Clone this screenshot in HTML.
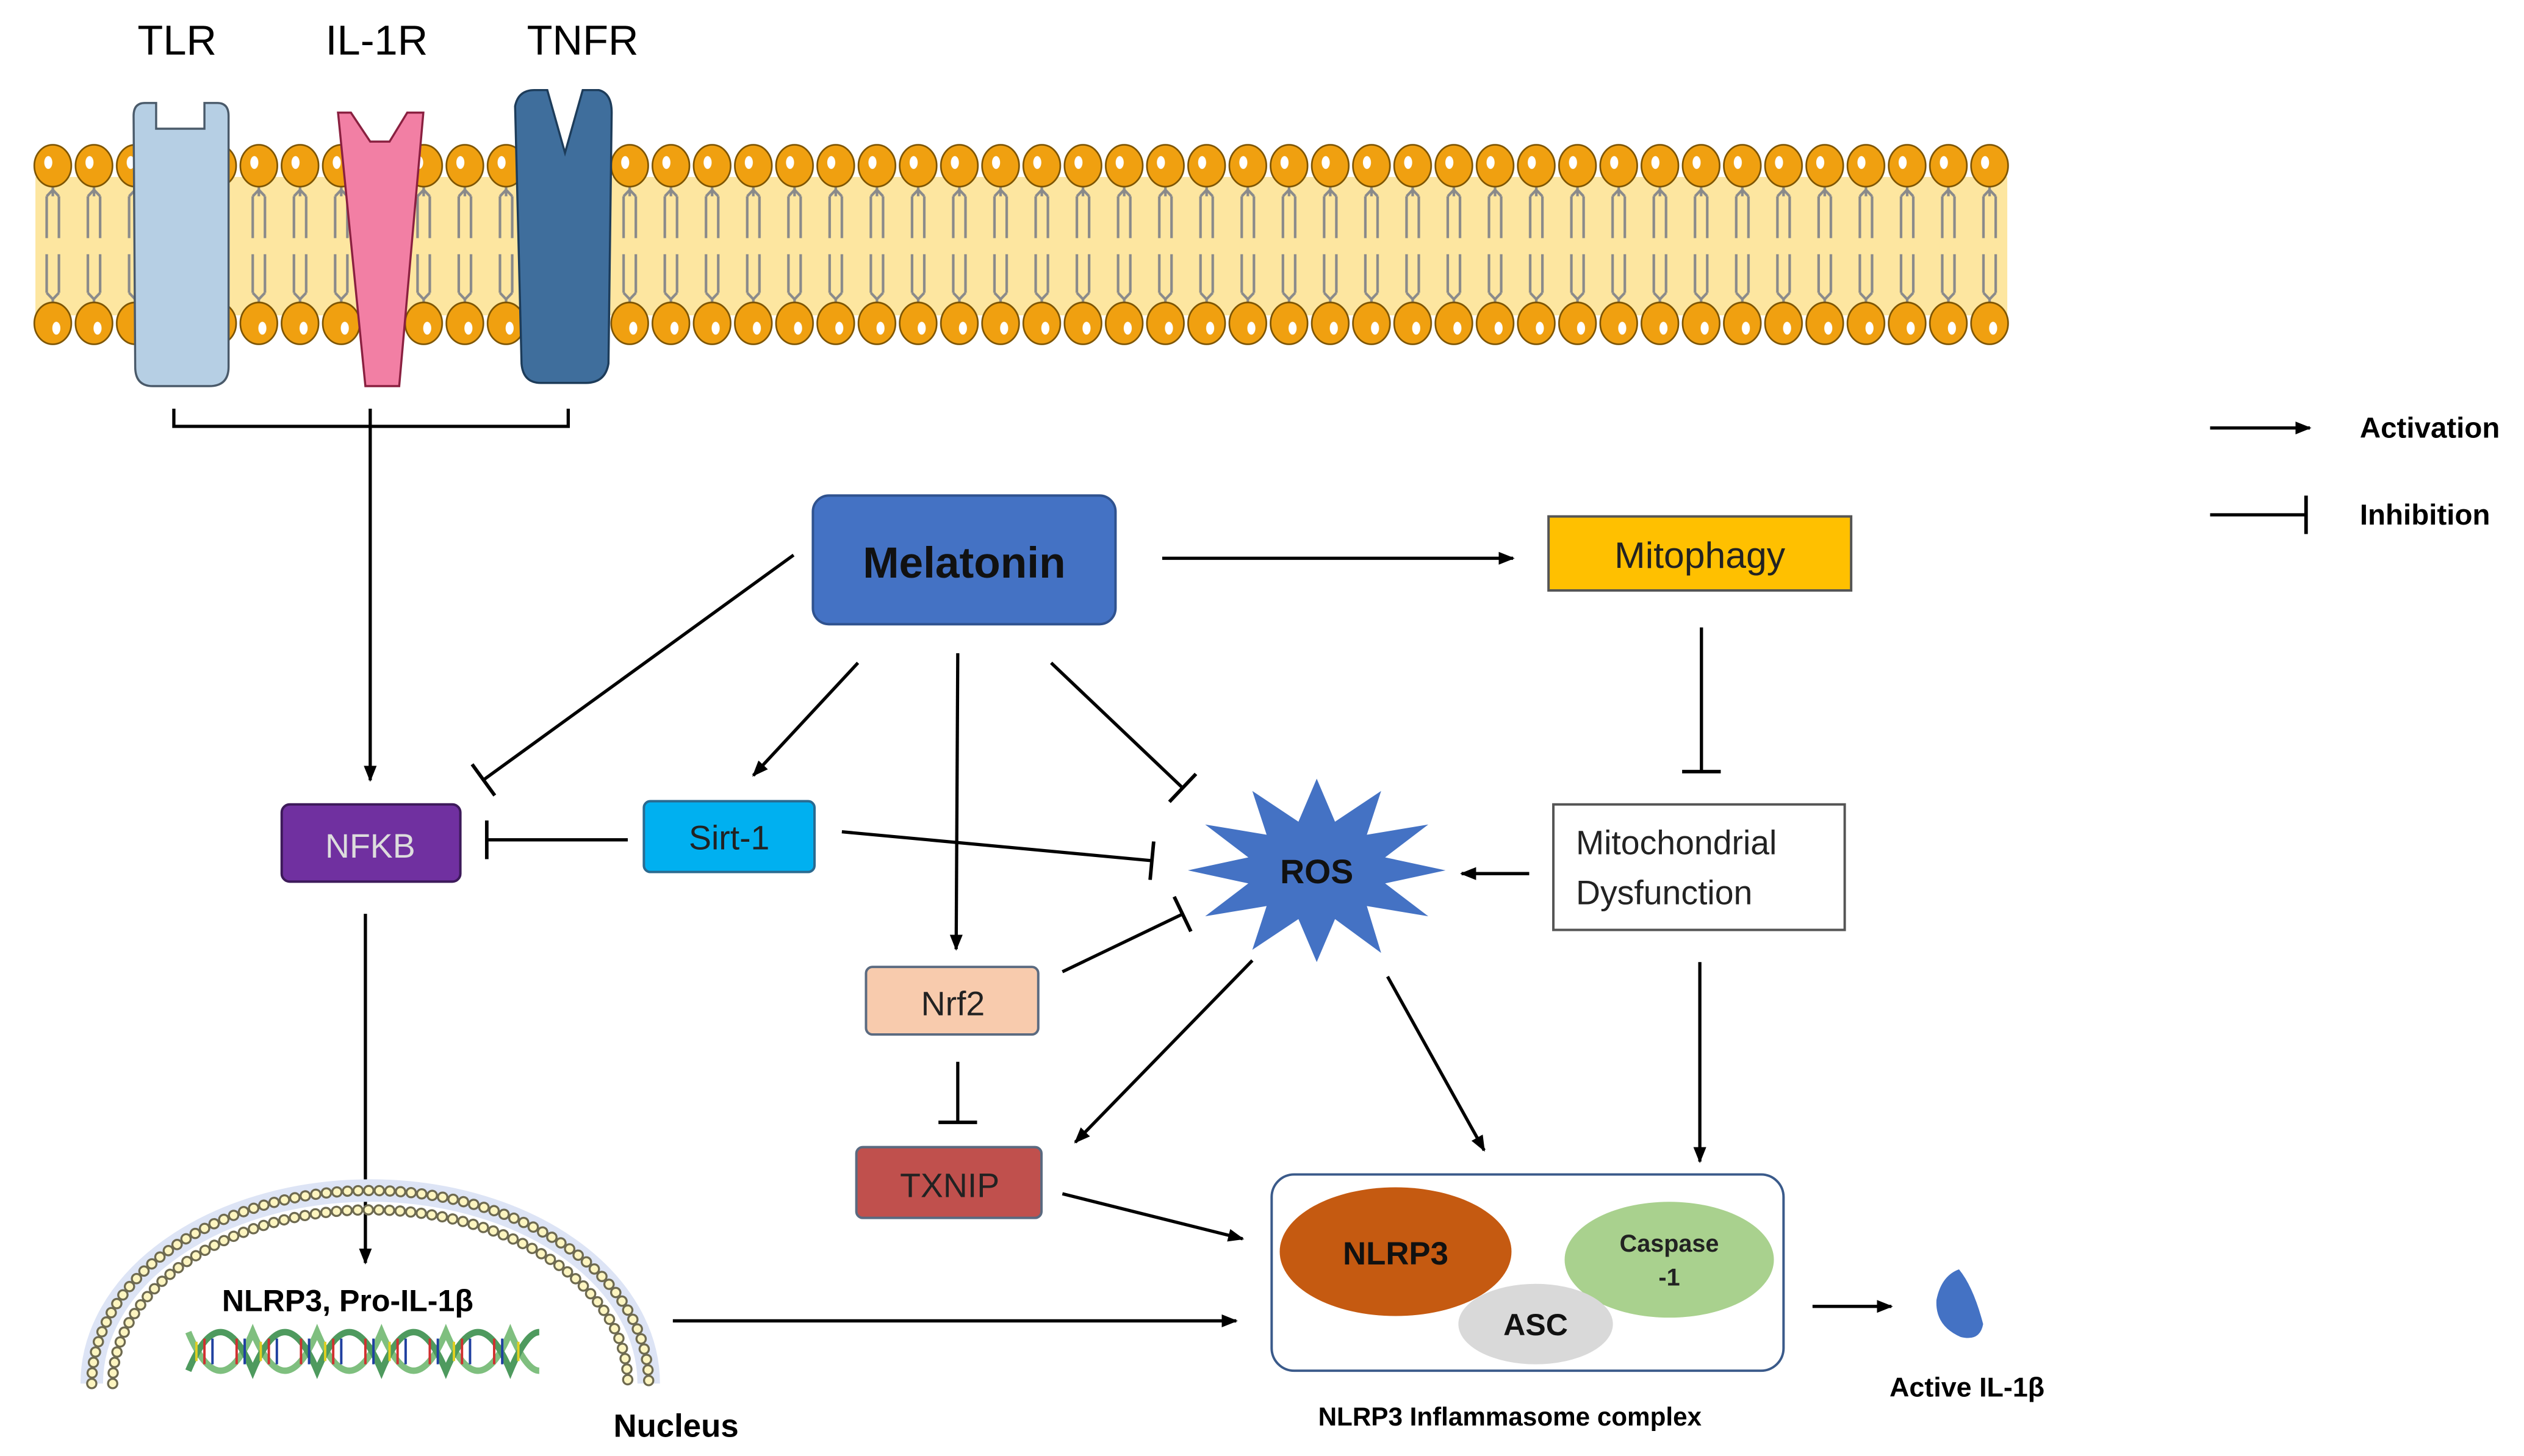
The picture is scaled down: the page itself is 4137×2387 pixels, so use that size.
<!DOCTYPE html>
<html><head><meta charset="utf-8"><style>
html,body{margin:0;padding:0;background:#fff}
svg{display:block}
text{font-family:"Liberation Sans",sans-serif}
</style></head><body>
<svg width="4137" height="2387" viewBox="0 0 1568 905" preserveAspectRatio="none" xmlns="http://www.w3.org/2000/svg">
<defs>
<marker id="ar" markerWidth="10" markerHeight="10" refX="9" refY="5" orient="auto" markerUnits="userSpaceOnUse"><path d="M0,1 L10,5 L0,9 Z" fill="#000"/></marker>
<marker id="inh" markerWidth="4" markerHeight="24" refX="2" refY="12" orient="auto" markerUnits="userSpaceOnUse"><rect x="0.5" y="0" width="2.2" height="24" fill="#000"/></marker>
<pattern id="lip" x="20" y="86" width="25.6" height="130" patternUnits="userSpaceOnUse">
<path d="M12.8,28 L12.8,36 M9,36 L12.8,32 L16.6,36 M9,36 V62 M16.6,36 V62 M9,72 V96 M16.6,72 V96 M9,96 L12.8,100 L16.6,96 M12.8,100 V106" stroke="#8a8a8a" stroke-width="1.6" fill="none"/>
<ellipse cx="12.8" cy="17" rx="11.5" ry="13" fill="#f0a010" stroke="#7a5200" stroke-width="1"/>
<ellipse cx="10" cy="15" rx="2.5" ry="4" fill="#fff"/>
<ellipse cx="12.8" cy="115" rx="11.5" ry="13" fill="#f0a010" stroke="#7a5200" stroke-width="1"/>
<ellipse cx="15" cy="118" rx="2.5" ry="4" fill="#fff"/>
</pattern>
</defs>

<!-- membrane -->
<rect x="22" y="110" width="1225" height="86" fill="#fde6a0"/>
<rect x="20" y="86" width="1228.8" height="130" fill="url(#lip)"/>

<!-- receptors -->
<path d="M83,72 Q83,64 90,64 L97,64 L97,80 L127,80 L127,64 L135,64 Q142,64 142,72 L142,228 Q142,240 130,240 L95,240 Q84,240 84,228 Z" fill="#b6cfe4" stroke="#4a5a6a" stroke-width="1.3"/>
<path d="M210,70 L218,70 L230,88 L242,88 L253,70 L263,70 L248,240 L227,240 Z" fill="#f27fa4" stroke="#8a2040" stroke-width="1.3"/>
<path d="M320,66 Q322,56 332,56 L340,56 L351,95 L362,56 L372,56 Q380,58 380,70 L378,226 Q376,238 364,238 L336,238 Q325,238 324,226 Z" fill="#3f6e9c" stroke="#1d3c5a" stroke-width="1.3"/>

<text x="110" y="34" font-size="26" text-anchor="middle">TLR</text>
<text x="234" y="34" font-size="26" text-anchor="middle">IL-1R</text>
<text x="362" y="34" font-size="26" text-anchor="middle">TNFR</text>

<!-- bracket -->
<path d="M108,254 V265 H353 V254 M230,254 V265" stroke="#000" stroke-width="2" fill="none"/>

<!-- legend -->
<line x1="1373" y1="266" x2="1435" y2="266" stroke="#000" stroke-width="2" marker-end="url(#ar)"/>
<text x="1466" y="272" font-size="18" font-weight="bold">Activation</text>
<line x1="1373" y1="320" x2="1433" y2="320" stroke="#000" stroke-width="2" marker-end="url(#inh)"/>
<text x="1466" y="326" font-size="18" font-weight="bold">Inhibition</text>

<!-- edges -->
<g stroke="#000" stroke-width="2" fill="none">
<line x1="230" y1="265" x2="230" y2="485" marker-end="url(#ar)"/>
<line x1="493" y1="345" x2="300" y2="485" marker-end="url(#inh)"/>
<line x1="533" y1="412" x2="468" y2="482" marker-end="url(#ar)"/>
<line x1="595" y1="406" x2="594" y2="590" marker-end="url(#ar)"/>
<line x1="653" y1="412" x2="735" y2="490" marker-end="url(#inh)"/>
<line x1="722" y1="347" x2="940" y2="347" marker-end="url(#ar)"/>
<line x1="1057" y1="390" x2="1057" y2="480" marker-end="url(#inh)"/>
<line x1="390" y1="522" x2="302" y2="522" marker-end="url(#inh)"/>
<line x1="523" y1="517" x2="716" y2="535" marker-end="url(#inh)"/>
<line x1="660" y1="604" x2="735" y2="568" marker-end="url(#inh)"/>
<line x1="595" y1="660" x2="595" y2="698" marker-end="url(#inh)"/>
<line x1="950" y1="543" x2="908" y2="543" marker-end="url(#ar)"/>
<line x1="778" y1="597" x2="668" y2="710" marker-end="url(#ar)"/>
<line x1="862" y1="607" x2="922" y2="715" marker-end="url(#ar)"/>
<line x1="1056" y1="598" x2="1056" y2="722" marker-end="url(#ar)"/>
<line x1="660" y1="742" x2="772" y2="770" marker-end="url(#ar)"/>
<line x1="227" y1="568" x2="227" y2="785" marker-end="url(#ar)"/>
<line x1="418" y1="821" x2="768" y2="821" marker-end="url(#ar)"/>
<line x1="1126" y1="812" x2="1175" y2="812" marker-end="url(#ar)"/>
</g>

<!-- nodes -->
<rect x="505" y="308" width="188" height="80" rx="10" fill="#4472c4" stroke="#2f528f" stroke-width="1.5"/>
<text x="599" y="359" font-size="27" font-weight="bold" text-anchor="middle" fill="#111">Melatonin</text>
<rect x="962" y="321" width="188" height="46" fill="#ffc000" stroke="#555" stroke-width="1.5"/>
<text x="1056" y="353" font-size="23" text-anchor="middle" fill="#222">Mitophagy</text>
<rect x="965" y="500" width="181" height="78" fill="#fff" stroke="#555" stroke-width="1.5"/>
<text x="979" y="531" font-size="21" fill="#222">Mitochondrial</text>
<text x="979" y="562" font-size="21" fill="#222">Dysfunction</text>
<rect x="175" y="500" width="111" height="48" rx="5" fill="#7030a0" stroke="#3d1a5a" stroke-width="1.5"/>
<text x="230" y="533" font-size="21" text-anchor="middle" fill="#ddd">NFKB</text>
<rect x="400" y="498" width="106" height="44" rx="4" fill="#00b0f0" stroke="#2a6a90" stroke-width="1.5"/>
<text x="453" y="528" font-size="21" text-anchor="middle" fill="#222">Sirt-1</text>
<rect x="538" y="601" width="107" height="42" rx="4" fill="#f8cbad" stroke="#5a6a80" stroke-width="1.5"/>
<text x="592" y="631" font-size="21" text-anchor="middle" fill="#222">Nrf2</text>
<rect x="532" y="713" width="115" height="44" rx="4" fill="#c0504d" stroke="#5a6a80" stroke-width="1.5"/>
<text x="590" y="744" font-size="21" text-anchor="middle" fill="#222">TXNIP</text>

<polygon transform="translate(818,541) scale(80,57)" vector-effect="non-scaling-stroke" fill="#4472c4" stroke="#2f528f" stroke-width="0.02"
points="1,0 .531,.142 .866,.5 .389,.389 .5,.9 .142,.531 0,1 -.142,.531 -.5,.866 -.389,.389 -.866,.5 -.531,.142 -1,0 -.531,-.142 -.866,-.5 -.389,-.389 -.5,-.866 -.142,-.531 0,-1 .142,-.531 .5,-.866 .389,-.389 .866,-.5 .531,-.142"/>
<text x="818" y="549" font-size="21" font-weight="bold" text-anchor="middle" fill="#111">ROS</text>

<!-- inflammasome -->
<rect x="790" y="730" width="318" height="122" rx="14" fill="#fff" stroke="#3a5a8a" stroke-width="1.5"/>
<ellipse cx="867" cy="778" rx="72" ry="40" fill="#c55a11"/>
<ellipse cx="1037" cy="783" rx="65" ry="36" fill="#a9d18e"/>
<ellipse cx="954" cy="823" rx="48" ry="25" fill="#d9d9d9"/>
<text x="867" y="786" font-size="20" font-weight="bold" text-anchor="middle" fill="#111">NLRP3</text>
<text x="1037" y="778" font-size="15" font-weight="bold" text-anchor="middle" fill="#222">Caspase</text>
<text x="1037" y="799" font-size="15" font-weight="bold" text-anchor="middle" fill="#222">-1</text>
<text x="954" y="830" font-size="19" font-weight="bold" text-anchor="middle" fill="#111">ASC</text>
<text x="938" y="886" font-size="16" font-weight="bold" text-anchor="middle">NLRP3 Inflammasome complex</text>

<path d="M1217,789 Q1226,800 1232,823 Q1230,834 1218,831 Q1202,824 1203,808 Q1206,793 1217,789 Z" fill="#4472c4"/>
<text x="1222" y="868" font-size="17" font-weight="bold" text-anchor="middle">Active IL-1β</text>

<!-- nucleus -->
<path d="M57,860 A173,120 0 0 1 403,860" fill="none" stroke="#dde4f5" stroke-width="14"/>
<g fill="none">
<path d="M57,860 A173,120 0 0 1 403,860" stroke="#6e6a50" stroke-width="7" stroke-dasharray="0.1 6.5" stroke-linecap="round"/>
<path d="M57,860 A173,120 0 0 1 403,860" stroke="#fdf5c0" stroke-width="4.5" stroke-dasharray="0.1 6.5" stroke-linecap="round"/>
<path d="M70,860 A160,108 0 0 1 390,860" stroke="#6e6a50" stroke-width="7" stroke-dasharray="0.1 6.5" stroke-linecap="round"/>
<path d="M70,860 A160,108 0 0 1 390,860" stroke="#fdf5c0" stroke-width="4.5" stroke-dasharray="0.1 6.5" stroke-linecap="round"/>
</g>
<text x="216" y="815" font-size="19" font-weight="bold" text-anchor="middle">NLRP3, Pro-IL-1β</text>
<g fill="none" stroke-width="4">
<path d="M117,828 Q127,852 137,852 Q147,852 157,828 Q167,852 177,852 Q187,852 197,828 Q207,852 217,852 Q227,852 237,828 Q247,852 257,852 Q267,852 277,828 Q287,852 297,852 Q307,852 317,828 Q327,852 335,852" stroke="#7fbf7f"/>
<path d="M117,852 Q127,828 137,828 Q147,828 157,852 Q167,828 177,828 Q187,828 197,852 Q207,828 217,828 Q227,828 237,852 Q247,828 257,828 Q267,828 277,852 Q287,828 297,828 Q307,828 317,852 Q327,828 335,828" stroke="#4e9a5e"/>
</g>
<g stroke-width="1.5">
<path d="M127,832 V848 M147,832 V848 M167,832 V848 M187,832 V848 M207,832 V848 M227,832 V848 M247,832 V848 M267,832 V848 M287,832 V848 M307,832 V848" stroke="#d03030"/>
<path d="M132,832 V848 M152,832 V848 M172,832 V848 M192,832 V848 M212,832 V848 M232,832 V848 M252,832 V848 M272,832 V848 M292,832 V848 M312,832 V848" stroke="#2040a0"/>
<path d="M122,834 V846 M162,834 V846 M202,834 V846 M242,834 V846 M282,834 V846 M322,834 V846" stroke="#e0d020"/>
</g>
<text x="420" y="893" font-size="20" font-weight="bold" text-anchor="middle">Nucleus</text>
</svg>
</body></html>
